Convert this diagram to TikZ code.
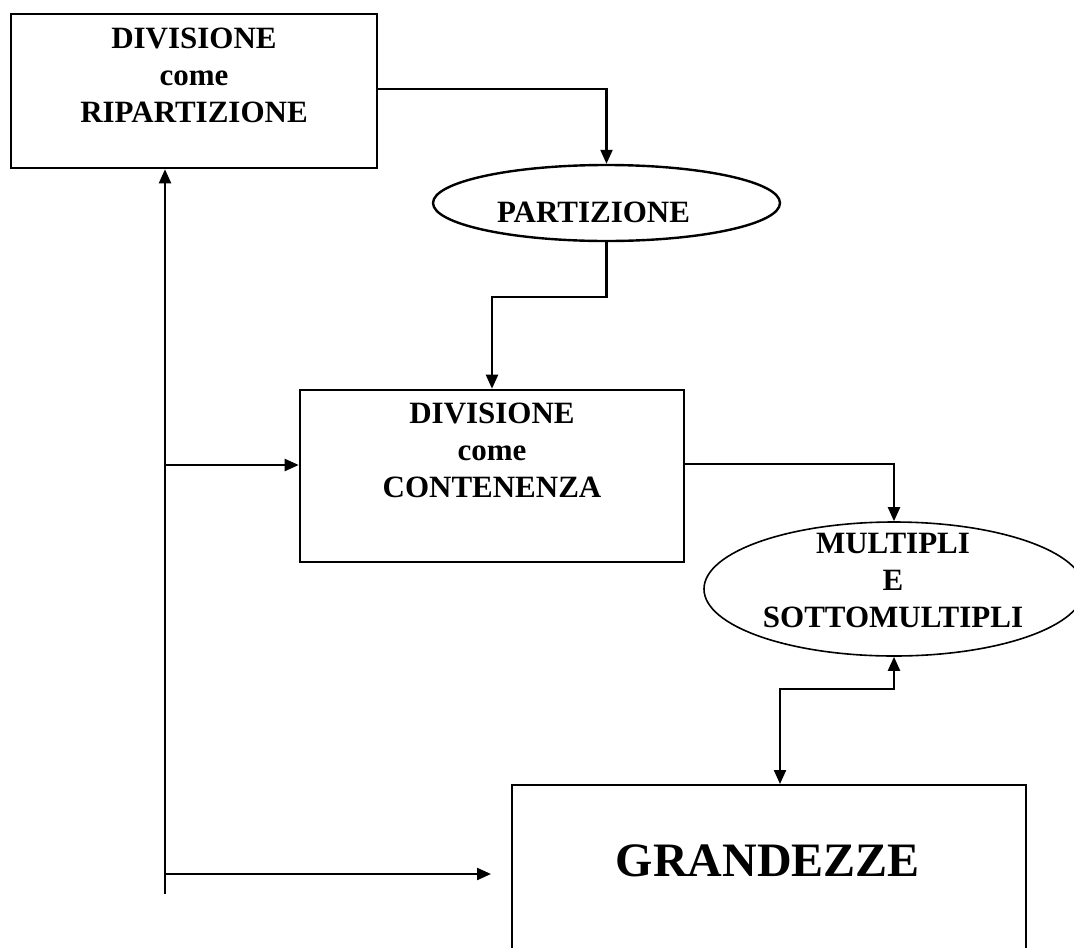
\documentclass[tikz,border=0pt]{standalone}
\usepackage{fontspec}
\setmainfont{Liberation Serif}
\usetikzlibrary{arrows.meta,shapes.geometric}
\begin{document}
\begin{tikzpicture}[x=1pt,y=-1pt,
  boxnode/.style={draw,line width=2.6pt,rectangle,inner sep=0pt},
  ellnode/.style={draw,line width=2.4pt,ellipse,inner sep=0pt},
  lbl/.style={inner sep=0pt,align=center,font=\fontsize{31}{37}\selectfont\bfseries},
  biglbl/.style={inner sep=0pt,align=center,font=\fontsize{48}{56}\selectfont\bfseries},
  conn/.style={line width=2.2pt,-{Triangle[length=14pt,width=12pt]}},
  dconn/.style={line width=2.2pt,{Triangle[length=14pt,width=12pt]}-{Triangle[length=14pt,width=12pt]}}
]
\useasboundingbox (0,0) rectangle (1074,948);
\clip (0,0) rectangle (1074,948);

% boxes and ellipses
\node[boxnode,minimum width=366pt,minimum height=154pt] (b1) at (194,91) {};
\node[lbl] (t1) at (194,75.5) {DIVISIONE\\come\\RIPARTIZIONE};

\node[ellnode,minimum width=347pt,minimum height=76pt] (e1) at (606.5,203) {};
\node[lbl] (te1) at (593.5,212.5) {PARTIZIONE};

\node[boxnode,minimum width=384pt,minimum height=172pt] (b2) at (492,476) {};
\node[lbl] (t2) at (492,450) {DIVISIONE\\come\\CONTENENZA};

\node[ellnode,line width=1.6pt,minimum width=380pt,minimum height=134pt] (e2) at (894,589) {};
\node[lbl] (te2) at (893,580) {MULTIPLI\\E\\SOTTOMULTIPLI};

\node[boxnode,line width=2pt,minimum width=514pt,minimum height=230pt] (b3) at (769,900) {};
\node[biglbl] (t3) at (768,861) {GRANDEZZE};

% junction coordinates
\coordinate (bot) at (165,894);
\coordinate (j2) at (165,465);
\coordinate (j3) at (165,874);
\coordinate (g) at (491,874);

% connectors
\draw[conn] ([yshift=2pt]b1.east) -| (e1.north);
\draw[conn] (e1.south) -- ++(0,55) -| (b2.north);
\draw[conn] ([yshift=12pt]b2.east) -| (e2.north);
\draw[dconn] (e2.south) -- ++(0,32) -| ([xshift=11pt]b3.north);
\draw[conn] (bot) -- (bot |- b1.south);
\draw[conn] (j2) -- (j2 -| b2.west);
\draw[conn] (j3) -- (g);
\end{tikzpicture}
\end{document}
